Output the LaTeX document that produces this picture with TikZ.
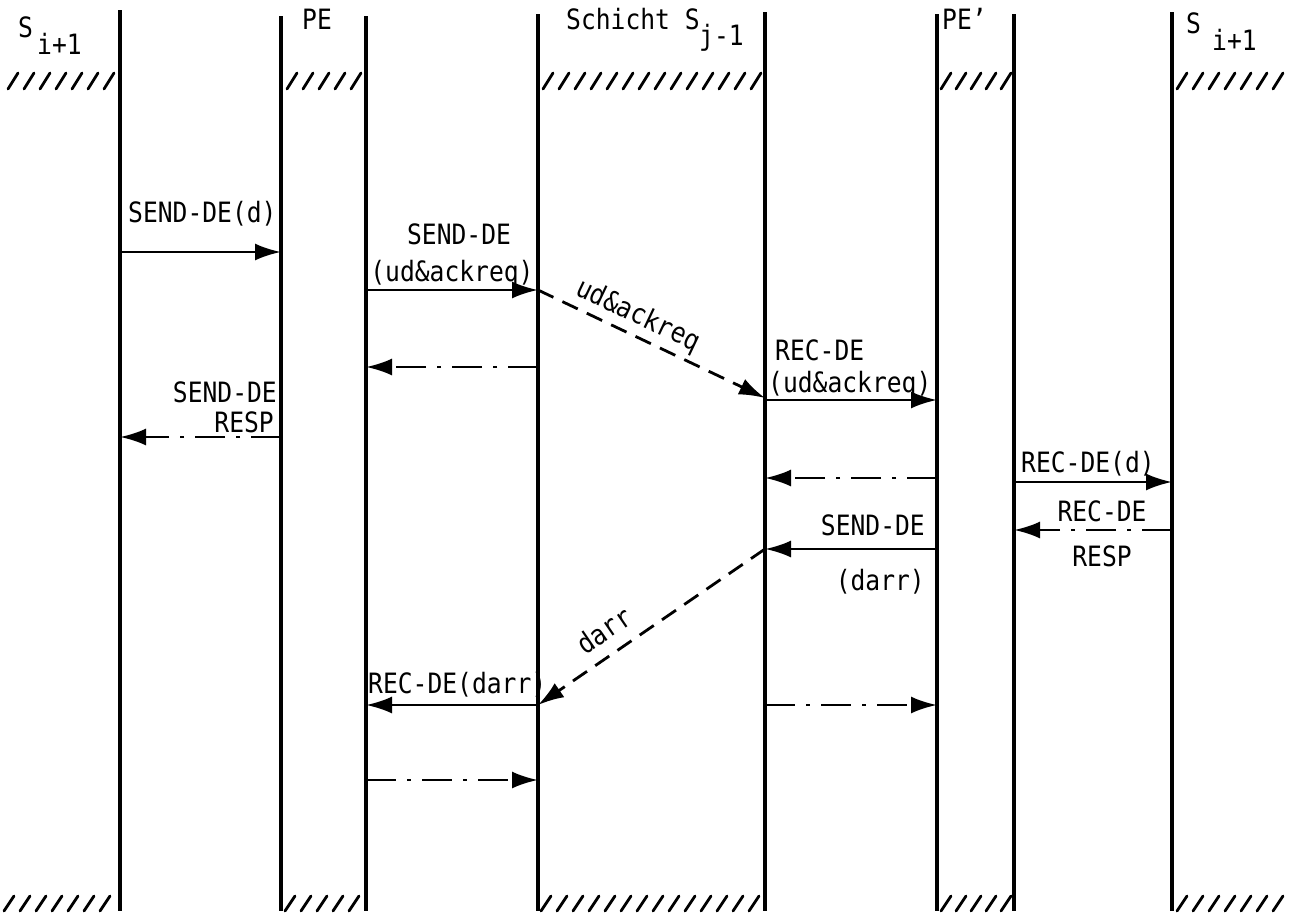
\documentclass[tikz,border=0pt]{standalone}
\usepackage{fontspec}
\setmainfont{DejaVu Sans Mono}[FakeStretch=0.88]
\usetikzlibrary{arrows.meta}
\begin{document}
\begin{tikzpicture}[x=1pt,y=-1pt,
  life/.style={line width=3.8pt},
  msg/.style={line width=2.8pt,-{Latex[length=26pt,width=17pt]}},
  solidmsg/.style={msg},
  dashmsg/.style={msg,dash pattern=on 17pt off 10pt},
  dotmsg/.style={msg,dash pattern=on 30pt off 11pt on 4pt off 11pt},
  lbl/.style={font=\fontsize{28}{32}\selectfont, inner sep=0pt},
  hatchline/.style={line width=2.8pt,line cap=round}]
\useasboundingbox (0,0) rectangle (1301,913);

% lifelines
\foreach \n/\x/\t in {L1/120/10, L2/281/16, L3/366/16, L4/538/14, L5/765/12, L6/937/14, L7/1014/14, L8/1172/12} {
  \coordinate (\n t) at (\x,\t);
  \coordinate (\n b) at (\x,911);
  \draw[life] (\n t) -- (\n b);
}

% hatching top
\foreach \x in {8,24,...,104, 287,303,...,351, 543,559,...,751, 941,956,...,1001, 1177,1193,...,1273}
  \draw[hatchline] (\x,89) -- (\x+10,73);
% hatching bottom
\foreach \x in {4,20,...,104, 285,301,...,349, 541,557,...,749, 941,956,...,1001, 1177,1193,...,1273}
  \draw[hatchline] (\x,911) -- (\x+10,896);

% headers
\node[lbl,anchor=base west] (h1) at (18,37) {S};
\node[lbl,anchor=base west] (h1s) at (37,54) {i+1};
\node[lbl,anchor=base west] (h2) at (302,29) {PE};
\node[lbl,anchor=base west] (h3) at (566,29) {Schicht S};
\node[lbl,anchor=base west] (h3s) at (699,45) {j-1};
\node[lbl,anchor=base west] (h4) at (942,29) {PE'};
\node[lbl,anchor=base west] (h5) at (1186,33) {S};
\node[lbl,anchor=base west] (h5s) at (1212,50) {i+1};

% message end points
\coordinate (m1s) at (L1t |- 0,252); \coordinate (m1e) at (L2t |- 0,252);
\coordinate (m2s) at (L3t |- 0,290); \coordinate (m2e) at (L4t |- 0,290);
\coordinate (m3e) at (L5t |- 0,398);
\coordinate (m4s) at (L4t |- 0,367); \coordinate (m4e) at (L3t |- 0,367);
\coordinate (m5s) at (L2t |- 0,437); \coordinate (m5e) at (L1t |- 0,437);
\coordinate (m6s) at (L5t |- 0,400); \coordinate (m6e) at (L6t |- 0,400);
\coordinate (m7s) at (L6t |- 0,478); \coordinate (m7e) at (L5t |- 0,478);
\coordinate (m8s) at (L7t |- 0,482); \coordinate (m8e) at (L8t |- 0,482);
\coordinate (m9s) at (L8t |- 0,530); \coordinate (m9e) at (L7t |- 0,530);
\coordinate (m10s) at (L6t |- 0,549); \coordinate (m10e) at (L5t |- 0,549);
\coordinate (m11e) at (L4t |- 0,705);
\coordinate (m12s) at (L4t |- 0,705); \coordinate (m12e) at (L3t |- 0,705);
\coordinate (m13s) at (L5t |- 0,705); \coordinate (m13e) at (L6t |- 0,705);
\coordinate (m14s) at (L3t |- 0,780); \coordinate (m14e) at (L4t |- 0,780);

% messages
\draw[solidmsg] (m1s) -- (m1e);
\draw[solidmsg] (m2s) -- (m2e);
\draw[dashmsg] (m2e) -- (m3e);
\draw[dotmsg] (m4s) -- (m4e);
\draw[dotmsg] (m5s) -- (m5e);
\draw[solidmsg] (m6s) -- (m6e);
\draw[dotmsg] (m7s) -- (m7e);
\draw[solidmsg] (m8s) -- (m8e);
\draw[dotmsg] (m9s) -- (m9e);
\draw[solidmsg] (m10s) -- (m10e);
\draw[dashmsg] (m10e) -- (m11e);
\draw[solidmsg] (m12s) -- (m12e);
\draw[dotmsg] (m13s) -- (m13e);
\draw[dotmsg] (m14s) -- (m14e);

% labels
\node[lbl,anchor=base west] (t1) at (128,222) {SEND-DE(d)};
\node[lbl,anchor=base] (t2a) at (459,244) {SEND-DE};
\node[lbl,anchor=base] (t2b) at (452,281) {(ud\&ackreq)};
\node[lbl,rotate=-25.4] (t3) at (638,316) {ud\&ackreq};
\node[lbl,anchor=base east] (t5a) at (277,402) {SEND-DE};
\node[lbl,anchor=base east] (t5b) at (274,432) {RESP};
\node[lbl,anchor=base west] (t6a) at (775,360) {REC-DE};
\node[lbl,anchor=base west] (t6b) at (768,392) {(ud\&ackreq)};
\node[lbl,anchor=base west] (t8) at (1021,472) {REC-DE(d)};
\node[lbl,anchor=base] (t9a) at (1102,521) {REC-DE};
\node[lbl,anchor=base] (t9b) at (1102,566) {RESP};
\node[lbl,anchor=base east] (t10a) at (925,535) {SEND-DE};
\node[lbl,anchor=base east] (t10b) at (925,590) {(darr)};
\node[lbl,rotate=34.4] (t11) at (604,630) {darr};
\node[lbl,anchor=base west] (t12) at (368,693) {REC-DE(darr)};
\end{tikzpicture}
\end{document}
